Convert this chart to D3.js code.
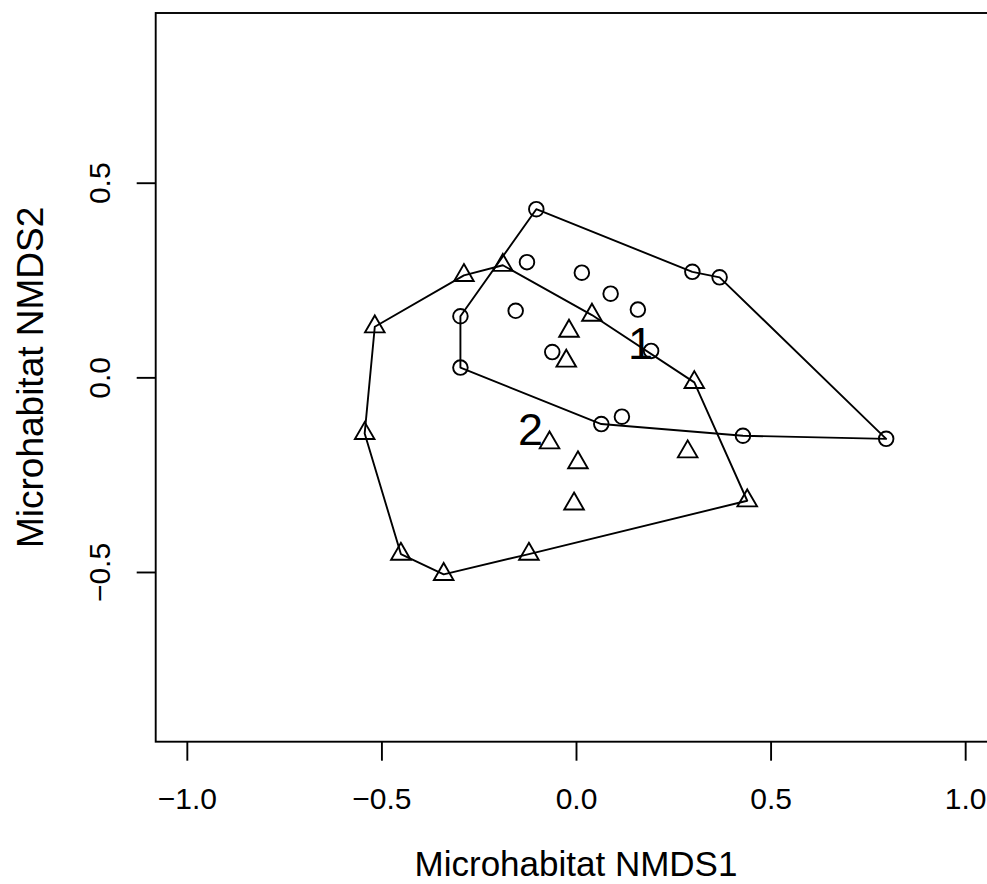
<!DOCTYPE html>
<html>
<head>
<meta charset="utf-8">
<script src="https://cdn.jsdelivr.net/npm/d3@7"></script>
<style>
  html, body { margin: 0; padding: 0; background: #fff; }
  svg { display: block; }
  text { font-family: "Liberation Sans", Arial, Helvetica, sans-serif; fill: #000; }
</style>
</head>
<body>
<svg id="chart" width="987" height="884"></svg>
<script>
// ---- data ----
// group 1 (circles)
const g1x = [-0.102, -0.126, 0.015, 0.299, 0.369, 0.089, 0.159, -0.155, 0.193, -0.061, 0.118, 0.065, 0.429, 0.797, -0.297, -0.297];
const g1y = [0.432, 0.296, 0.269, 0.271, 0.257, 0.215, 0.174, 0.171, 0.068, 0.065, -0.101, -0.120, -0.150, -0.158, 0.157, 0.025];
const g1hull = [0, 3, 4, 13, 12, 11, 15, 14];
// group 2 (triangles)
const g2x = [-0.188, -0.288, -0.517, -0.543, -0.450, -0.340, -0.121, 0.440, 0.304, 0.041, -0.018, -0.025, -0.068, 0.005, 0.287, -0.005];
const g2y = [0.288, 0.262, 0.130, -0.144, -0.454, -0.506, -0.454, -0.317, -0.013, 0.160, 0.119, 0.042, -0.168, -0.219, -0.191, -0.325];
const g2hull = [0, 9, 8, 7, 6, 5, 4, 3, 2, 1];
// group labels
const groupLabels = ["1", "2"];
const labelX = [0.166, -0.117];
const labelY = [0.090, -0.133];
// axes
const xTicks = [-1.0, -0.5, 0.0, 0.5, 1.0];
const yTicks = [-0.5, 0.0, 0.5];
const xLim = [-1.08, 1.08];
const yLim = [-0.936, 0.936];
const xTitle = "Microhabitat NMDS1";
const yTitle = "Microhabitat NMDS2";

// ---- layout ----
const plotLeft = 155.7, plotRight = 996.3, plotTop = 13, plotBottom = 741.7;
const svg = d3.select("#chart");
svg.append("rect").attr("width", 987).attr("height", 884).attr("fill", "#fff");

const x = d3.scaleLinear().domain(xLim).range([plotLeft, plotRight]);
const y = d3.scaleLinear().domain(yLim).range([plotBottom, plotTop]);
const fmt = d3.format(".1f");
const SW = 1.9;

// axes
const xAxis = svg.append("g")
  .attr("transform", `translate(0,${plotBottom})`)
  .call(d3.axisBottom(x).tickValues(xTicks).tickSize(19).tickFormat(fmt));
xAxis.select(".domain").remove();
xAxis.selectAll(".tick line").attr("stroke", "#000").attr("stroke-width", SW);
xAxis.selectAll(".tick text")
  .attr("y", 67.3).attr("dy", 0)
  .attr("font-size", 30)
  .style("font-family", '"Liberation Sans", Arial, Helvetica, sans-serif')
  .attr("fill", "#000");

const yAxis = svg.append("g")
  .attr("transform", `translate(${plotLeft},0)`)
  .call(d3.axisLeft(y).tickValues(yTicks).tickSize(19).tickFormat(fmt));
yAxis.select(".domain").remove();
yAxis.selectAll(".tick line").attr("stroke", "#000").attr("stroke-width", SW);
yAxis.selectAll(".tick text")
  .attr("x", null).attr("dy", 0)
  .attr("text-anchor", "middle")
  .attr("transform", "translate(-45.7,0) rotate(-90)")
  .attr("font-size", 30)
  .style("font-family", '"Liberation Sans", Arial, Helvetica, sans-serif')
  .attr("fill", "#000");

// plot box
svg.append("rect")
  .attr("x", plotLeft).attr("y", plotTop)
  .attr("width", plotRight - plotLeft).attr("height", plotBottom - plotTop)
  .attr("fill", "none").attr("stroke", "#000").attr("stroke-width", SW);

// axis titles
svg.append("text")
  .attr("x", (plotLeft + plotRight) / 2).attr("y", 876)
  .attr("text-anchor", "middle").attr("font-size", 35)
  .text(xTitle);
svg.append("text")
  .attr("transform", `translate(43,${(plotTop + plotBottom) / 2}) rotate(-90)`)
  .attr("text-anchor", "middle").attr("font-size", 37)
  .text(yTitle);

// points
const g1 = g1x.map((v, i) => [v, g1y[i]]);
const g2 = g2x.map((v, i) => [v, g2y[i]]);
const circR = 7.3;
const triR = 11.3;
const triPath = `M0,${-triR}L${0.866 * triR},${triR / 2}L${-0.866 * triR},${triR / 2}Z`;

svg.append("g").selectAll("circle").data(g1).join("circle")
  .attr("cx", d => x(d[0])).attr("cy", d => y(d[1])).attr("r", circR)
  .attr("fill", "none").attr("stroke", "#000").attr("stroke-width", SW);

svg.append("g").selectAll("path").data(g2).join("path")
  .attr("transform", d => `translate(${x(d[0])},${y(d[1])})`)
  .attr("d", triPath)
  .attr("fill", "none").attr("stroke", "#000").attr("stroke-width", SW);

// hulls
const line = d3.line().x(d => x(d[0])).y(d => y(d[1])).curve(d3.curveLinearClosed);
svg.append("path").attr("d", line(g1hull.map(i => g1[i])))
  .attr("fill", "none").attr("stroke", "#000").attr("stroke-width", SW).attr("stroke-linejoin", "round");
svg.append("path").attr("d", line(g2hull.map(i => g2[i])))
  .attr("fill", "none").attr("stroke", "#000").attr("stroke-width", SW).attr("stroke-linejoin", "round");

// group labels
svg.append("g").selectAll("text").data(groupLabels).join("text")
  .attr("x", (d, i) => x(labelX[i])).attr("y", (d, i) => y(labelY[i]))
  .attr("dy", "0.36em").attr("text-anchor", "middle").attr("font-size", 45)
  .text(d => d);
</script>
</body>
</html>
